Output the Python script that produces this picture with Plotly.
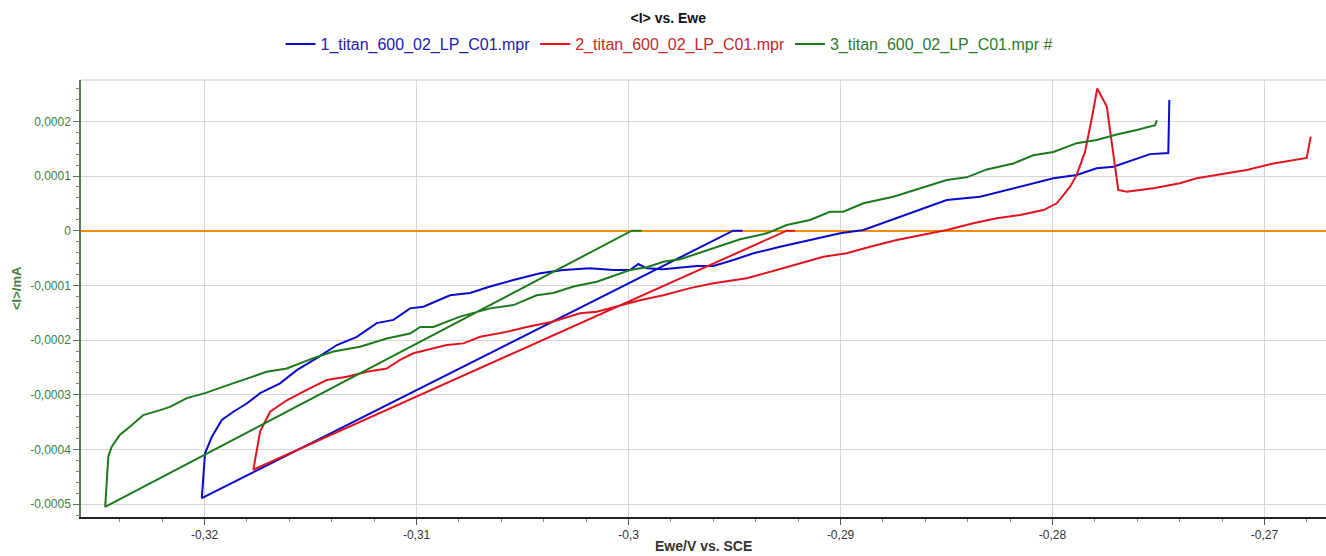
import plotly.graph_objects as go

# ---------------- data (Ewe in V vs SCE, <I> in mA) ----------------
names = ["1_titan_600_02_LP_C01.mpr", "2_titan_600_02_LP_C01.mpr", "3_titan_600_02_LP_C01.mpr #"]

blue_E = [-0.29462, -0.29507,
          -0.32013, -0.31998, -0.31966, -0.31919, -0.31864, -0.31801, -0.31738, -0.31644, -0.31565,
          -0.31471, -0.31376, -0.31282, -0.31188, -0.31109, -0.31031, -0.30968, -0.30842, -0.30748,
          -0.30653, -0.30543, -0.30417, -0.30308, -0.30182, -0.30072, -0.29993, -0.29954, -0.29914,
          -0.29836, -0.29678, -0.29600, -0.29506, -0.29411, -0.29285, -0.29144, -0.29002, -0.28892,
          -0.28782, -0.28688, -0.28578, -0.28499, -0.28342, -0.28216, -0.28122, -0.27996, -0.27886,
          -0.27792, -0.27713, -0.27619, -0.27540, -0.27454, -0.27449]
blue_I = [0.0, 0.0,
          -4.89e-4, -4.07e-4, -3.77e-4, -3.46e-4, -3.31e-4, -3.16e-4, -2.97e-4, -2.79e-4, -2.55e-4,
          -2.33e-4, -2.09e-4, -1.94e-4, -1.69e-4, -1.63e-4, -1.42e-4, -1.39e-4, -1.18e-4, -1.14e-4,
          -1.02e-4, -9.01e-5, -7.79e-5, -7.18e-5, -6.87e-5, -7.18e-5, -7.18e-5, -6.09e-5, -6.87e-5,
          -7.06e-5, -6.45e-5, -6.45e-5, -5.36e-5, -4.13e-5, -2.93e-5, -1.70e-5, -4.8e-6, 1.3e-6,
          1.65e-5, 2.87e-5, 4.39e-5, 5.61e-5, 6.22e-5, 7.44e-5, 8.35e-5, 9.58e-5, 1.02e-4,
          1.14e-4, 1.17e-4, 1.29e-4, 1.40e-4, 1.42e-4, 2.39e-4]

red_E = [-0.29215, -0.29254,
         -0.31770, -0.31738, -0.31691, -0.31612, -0.31518, -0.31424, -0.31329, -0.31235, -0.31141,
         -0.31078, -0.31015, -0.30858, -0.30779, -0.30700, -0.30575, -0.30480, -0.30355, -0.30229,
         -0.30150, -0.30040, -0.29946, -0.29836, -0.29710, -0.29600, -0.29442, -0.29301, -0.29191,
         -0.29081, -0.28971, -0.28861, -0.28735, -0.28625, -0.28499, -0.28374, -0.28263, -0.28153,
         -0.28043, -0.27980, -0.27917, -0.27886, -0.27847, -0.27815, -0.27789, -0.27744, -0.27721,
         -0.27690, -0.27650, -0.27587, -0.27525, -0.27399, -0.27320, -0.27178, -0.27084, -0.26958,
         -0.26864, -0.26801, -0.26782]
red_I = [0.0, 0.0,
         -4.37e-4, -3.67e-4, -3.31e-4, -3.10e-4, -2.91e-4, -2.73e-4, -2.67e-4, -2.58e-4, -2.52e-4,
         -2.36e-4, -2.24e-4, -2.09e-4, -2.06e-4, -1.94e-4, -1.85e-4, -1.76e-4, -1.66e-4, -1.51e-4,
         -1.48e-4, -1.36e-4, -1.27e-4, -1.18e-4, -1.05e-4, -9.62e-5, -8.70e-5, -7.18e-5, -5.96e-5,
         -4.75e-5, -4.13e-5, -2.93e-5, -1.70e-5, -7.9e-6, 1.3e-6, 1.35e-5, 2.27e-5, 2.87e-5,
         3.78e-5, 5.01e-5, 8.04e-5, 1.02e-4, 1.44e-4, 2.05e-4, 2.60e-4, 2.27e-4, 1.63e-4,
         7.44e-5, 7.13e-5, 7.44e-5, 7.75e-5, 8.67e-5, 9.58e-5, 1.05e-4, 1.11e-4, 1.23e-4,
         1.29e-4, 1.33e-4, 1.72e-4]

green_E = [-0.29938, -0.29985,
           -0.32469, -0.32454, -0.32438, -0.32399, -0.32351, -0.32289, -0.32210, -0.32163, -0.32084,
           -0.31998, -0.31911, -0.31817, -0.31707, -0.31612, -0.31487, -0.31392, -0.31267, -0.31141,
           -0.31031, -0.30983, -0.30921, -0.30795, -0.30653, -0.30543, -0.30433, -0.30355, -0.30260,
           -0.30150, -0.29993, -0.29914, -0.29836, -0.29757, -0.29600, -0.29474, -0.29348, -0.29254,
           -0.29144, -0.29050, -0.28987, -0.28892, -0.28751, -0.28625, -0.28499, -0.28405, -0.28310,
           -0.28185, -0.28091, -0.27996, -0.27886, -0.27792, -0.27697, -0.27603, -0.27516, -0.27508]
green_I = [0.0, 0.0,
           -5.05e-4, -4.12e-4, -3.95e-4, -3.73e-4, -3.58e-4, -3.37e-4, -3.28e-4, -3.22e-4, -3.06e-4,
           -2.97e-4, -2.85e-4, -2.73e-4, -2.58e-4, -2.52e-4, -2.33e-4, -2.21e-4, -2.12e-4, -1.97e-4,
           -1.88e-4, -1.76e-4, -1.76e-4, -1.57e-4, -1.42e-4, -1.36e-4, -1.18e-4, -1.14e-4, -1.02e-4,
           -9.32e-5, -7.18e-5, -6.69e-5, -5.67e-5, -5.23e-5, -3.22e-5, -1.57e-5, -4.8e-6, 1.04e-5,
           1.96e-5, 3.47e-5, 3.47e-5, 5.01e-5, 6.22e-5, 7.75e-5, 9.27e-5, 9.76e-5, 1.12e-4,
           1.23e-4, 1.38e-4, 1.44e-4, 1.60e-4, 1.66e-4, 1.76e-4, 1.84e-4, 1.93e-4, 2.02e-4]

x_tickvals = [-0.32, -0.31, -0.30, -0.29, -0.28, -0.27]
x_ticktext = ["-0,32", "-0,31", "-0,3", "-0,29", "-0,28", "-0,27"]
y_tickvals = [-0.0005, -0.0004, -0.0003, -0.0002, -0.0001, 0.0, 0.0001, 0.0002]
y_ticktext = ["-0,0005", "-0,0004", "-0,0003", "-0,0002", "-0,0001", "0", "0,0001", "0,0002"]

# ---------------- styling ----------------
W, H = 1326, 556
ML, MR, MT, MB = 81, 0, 80, 39
FONT = "Liberation Sans, Arial, sans-serif"

series = [
    (blue_E, blue_I, names[0], "#0a0ac8", "#2020a8"),
    (red_E, red_I, names[1], "#e0141e", "#c82828"),
    (green_E, green_I, names[2], "#1c7a1c", "#2e7a2e"),
]

fig = go.Figure()
for E, I, name, lc, tc in series:
    fig.add_trace(go.Scatter(
        x=E, y=I, mode="lines",
        name=f"<span style='color:{tc}'>{name}</span>",
        line=dict(color=lc, width=2),
    ))

fig.update_layout(
    width=W, height=H,
    margin=dict(l=ML, r=MR, t=MT, b=MB, pad=0),
    paper_bgcolor="white", plot_bgcolor="white",
    font=dict(family=FONT, size=12, color="#333"),
    title=dict(text="<b>&lt;I&gt; vs. Ewe</b>", x=0.504, xanchor="center",
               y=1 - 18 / H, yanchor="middle", yref="container",
               font=dict(family=FONT, size=14, color="#111")),
    showlegend=True,
    legend=dict(orientation="h", x=669 / W, xanchor="center", xref="container",
                y=1 - 44 / H, yanchor="middle", yref="container",
                font=dict(family=FONT, size=16), itemwidth=30,
                bgcolor="rgba(0,0,0,0)", tracegroupgap=0),
    xaxis=dict(range=[-0.32583, -0.26710],
               tickmode="array", tickvals=x_tickvals, ticktext=x_ticktext,
               showgrid=True, gridcolor="#d6d6d6", gridwidth=1,
               showline=True, linecolor="#222", linewidth=1.5,
               ticks="outside", ticklen=6, tickcolor="#555",
               tickfont=dict(family=FONT, size=12, color="#333"),
               minor=dict(tick0=-0.32, dtick=0.002, ticks="outside", ticklen=3,
                          tickcolor="#888", showgrid=False),
               zeroline=False, fixedrange=True),
    yaxis=dict(range=[-0.0005234, 0.0002755],
               tickmode="array", tickvals=y_tickvals, ticktext=y_ticktext,
               showgrid=True, gridcolor="#d6d6d6", gridwidth=1,
               showline=True, linecolor="#5a7a5a", linewidth=1.5,
               ticks="outside", ticklen=6, tickcolor="#5a7a5a",
               tickfont=dict(family=FONT, size=12, color="#3c7f3c"),
               minor=dict(tick0=0, dtick=0.00002, ticks="outside", ticklen=3,
                          tickcolor="#6a8a6a", showgrid=False),
               zeroline=True, zerolinecolor="#ff8c00", zerolinewidth=2,
               fixedrange=True),
    annotations=[
        dict(text="<b>Ewe/V vs. SCE</b>", xref="paper", yref="paper",
             x=0.5, y=-29 / (H - MT - MB), xanchor="center", yanchor="middle",
             showarrow=False, font=dict(family=FONT, size=14, color="#333")),
        dict(text="<b>&lt;I&gt;/mA</b>", xref="paper", yref="paper",
             x=(16 - ML) / (W - ML - MR), y=(517 - 288) / (H - MT - MB),
             xanchor="center", yanchor="middle", textangle=-90,
             showarrow=False, font=dict(family=FONT, size=13, color="#3c7f3c")),
    ],
    shapes=[dict(type="line", xref="paper", yref="paper", x0=0, x1=1, y0=1, y1=1,
                 line=dict(color="#c8c8c8", width=1), layer="below")],
)

fig.write_html("out.html")
